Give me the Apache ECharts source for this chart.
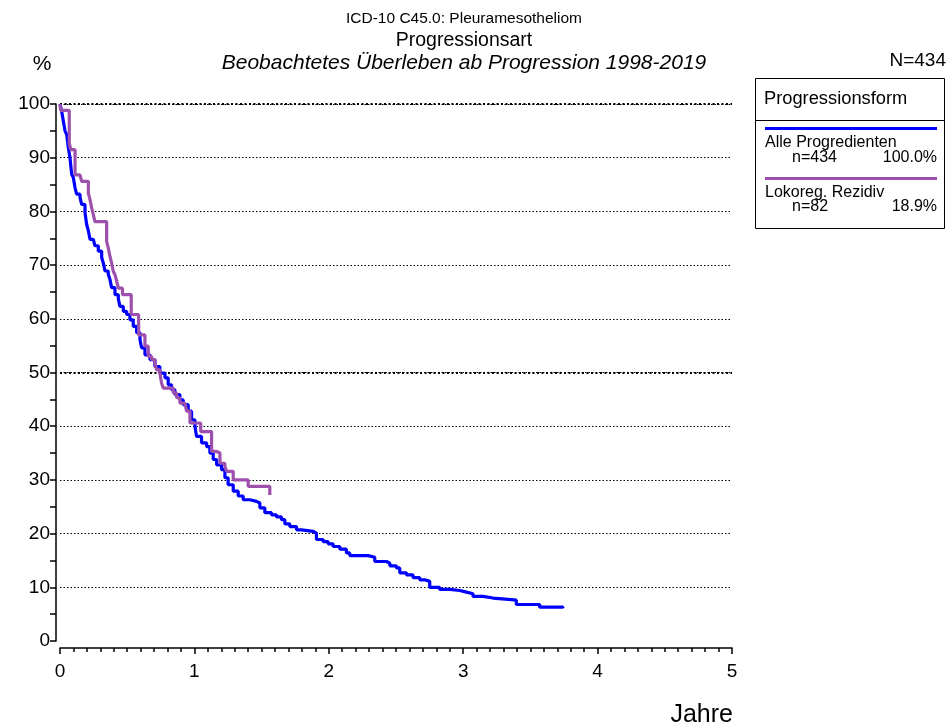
<!DOCTYPE html>
<html>
<head>
<meta charset="utf-8">
<script src="https://cdn.jsdelivr.net/npm/echarts@6/dist/echarts.min.js"></script>
<style>
html,body{margin:0;padding:0;background:#fff;}
#main{width:948px;height:728px;}
</style>
</head>
<body>
<div id="main"></div>
<script>
// Kaplan-Meier step points: time (years) and survival (%)
const alleYears = [0,0.012,0.025,0.037,0.05,0.062,0.074,0.087,0.099,0.112,0.124,0.149,0.161,0.186,0.198,0.211,0.223,0.248,0.26,0.285,0.31,0.322,0.335,0.359,0.372,0.384,0.409,0.434,0.446,0.471,0.496,0.52,0.545,0.57,0.595,0.607,0.632,0.669,0.706,0.743,0.781,0.805,0.83,0.855,0.892,0.917,0.954,0.979,1.004,1.016,1.053,1.091,1.115,1.14,1.165,1.202,1.227,1.251,1.289,1.326,1.363,1.413,1.462,1.487,1.524,1.574,1.611,1.648,1.673,1.71,1.76,1.797,1.884,1.908,1.958,1.995,2.032,2.082,2.131,2.156,2.293,2.342,2.429,2.454,2.503,2.528,2.578,2.627,2.677,2.714,2.751,2.825,2.9,2.974,3.024,3.073,3.147,3.222,3.358,3.395,3.569,3.742];
const allePct = [100,98.7,96.8,95.0,94.3,91.9,90.0,86.9,86.3,84.4,83.2,82.6,81.3,79.8,77.6,76.4,74.8,74.5,73.6,72.6,71.4,70.4,68.9,68.3,67.3,65.8,64.5,63.7,62.3,61.4,60.8,59.8,58.6,57.4,56.1,54.6,53.3,52.4,51.1,49.9,49.0,47.7,46.8,45.9,44.9,44.0,42.8,41.2,40.0,38.1,36.9,36.2,35.0,33.8,32.8,31.9,30.4,29.1,27.9,27.0,26.3,26.0,25.7,24.8,23.9,23.5,23.1,22.6,21.8,21.3,20.7,20.4,20.1,18.9,18.5,18.1,17.6,17.1,16.4,15.9,15.6,14.8,14.5,14.0,13.6,12.7,12.3,11.8,11.4,11.1,10.0,9.6,9.4,9.1,8.8,8.3,8.0,7.7,7.6,6.8,6.3,6.1];

const lokoYears = [0,0.005,0.069,0.08,0.112,0.149,0.161,0.211,0.223,0.236,0.248,0.26,0.347,0.359,0.372,0.384,0.397,0.409,0.422,0.434,0.465,0.53,0.585,0.632,0.657,0.682,0.706,0.719,0.743,0.756,0.768,0.843,0.868,0.892,0.929,0.942,0.967,1.047,1.128,1.165,1.19,1.227,1.239,1.289,1.4,1.561];
const lokoPct = [100,98.8,92.7,91.5,86.8,86.5,85.6,83.4,82.2,80.6,79.4,78.1,74.4,73.2,71.6,70.4,68.8,68.2,67.0,65.7,64.5,60.8,57.0,54.9,53.0,52.4,51.8,50.5,49.9,48.0,47.1,46.2,45.3,44.3,44.0,42.8,40.6,39.0,35.3,35.0,33.1,32.5,31.6,30.0,28.8,27.2];

const xTicks = [0,1,2,3,4,5];
const yTicks = [0,10,20,30,40,50,60,70,80,90,100];

const legendNames = ['Alle Progredienten','Lokoreg. Rezidiv'];
const legendN = ['n=434','n=82'];
const legendPct = ['100.0%','18.9%'];
const colors = ['#0000ff','#9e50ad'];

const FONT = '"Liberation Sans", Arial, sans-serif';

const chart = echarts.init(document.getElementById('main'), null, {renderer:'canvas'});

const txt = (x,y,text,size,align,extra) => ({
  type:'text', x:x, y:y, silent:true,
  style:Object.assign({text:text, font: size+'px '+FONT, fill:'#000', textAlign:align||'left', textVerticalAlign:'middle'}, extra||{})
});

const option = {
  backgroundColor:'#fff',
  animation:false,
  grid:{left:60, top:104, width:672, height:537, containLabel:false},
  xAxis:{
    type:'value', min:0, max:5, interval:1,
    offset:7,
    axisLine:{show:true, onZero:false, lineStyle:{color:'#000', width:1.5}},
    axisTick:{show:true, length:6, lineStyle:{color:'#000', width:1.5}},
    minorTick:{show:true, splitNumber:10, length:4, lineStyle:{color:'#000', width:1.5}},
    axisLabel:{fontSize:19, color:'#000', fontFamily:FONT, margin:14, formatter:(v)=> xTicks.includes(v)? String(v):''},
    splitLine:{show:false}
  },
  yAxis:{
    type:'value', min:0, max:100, interval:10,
    offset:4,
    axisLine:{show:true, onZero:false, lineStyle:{color:'#000', width:1.5}},
    axisTick:{show:true, length:6, lineStyle:{color:'#000', width:1.5}},
    minorTick:{show:true, splitNumber:2, length:6, lineStyle:{color:'#000', width:1.5}},
    axisLabel:{fontSize:19, color:'#000', fontFamily:FONT, margin:6, formatter:(v)=> yTicks.includes(v)? String(v):''},
    splitLine:{show:true, showMinLine:false, lineStyle:{color:'#000', type:[1.5,2], width:1}}
  },
  series:[
    {
      type:'line', step:'end', showSymbol:false, symbol:'none',
      data: alleYears.map((x,i)=>[x, allePct[i]]),
      lineStyle:{color:colors[0], width:3.2}, itemStyle:{color:colors[0]},
      z:3,
      markLine:{
        silent:true, symbol:'none', label:{show:false},
        lineStyle:{color:'#000', type:[2,2.5], width:2.2},
        data:[{yAxis:50},{yAxis:100}], z:1
      }
    },
    {
      type:'line', step:'end', showSymbol:false, symbol:'none',
      data: lokoYears.map((x,i)=>[x, lokoPct[i]]),
      lineStyle:{color:colors[1], width:3.2}, itemStyle:{color:colors[1]},
      z:4
    }
  ],
  graphic:[
    txt(464,19,'ICD-10 C45.0: Pleuramesotheliom',15.5,'center'),
    txt(464,41,'Progressionsart',19.5,'center'),
    txt(464,63,'Beobachtetes Überleben ab Progression 1998-2019',21,'center',{font:'italic 21px '+FONT}),
    txt(42,64,'%',21,'center'),
    txt(946,61,'N=434',19,'right'),
    txt(733,715,'Jahre',25,'right'),
    {type:'rect', shape:{x:755.5,y:78.5,width:189,height:150}, style:{fill:'none', stroke:'#000', lineWidth:1}, silent:true},
    {type:'line', shape:{x1:755.5,y1:120.5,x2:944.5,y2:120.5}, style:{stroke:'#000', lineWidth:1}, silent:true},
    txt(764,99,'Progressionsform',18.3,'left'),
    {type:'line', shape:{x1:765,y1:128.5,x2:937,y2:128.5}, style:{stroke:colors[0], lineWidth:3}, silent:true},
    txt(765,143,legendNames[0],16,'left'),
    txt(792,158,legendN[0],16,'left'),
    txt(937,158,legendPct[0],16,'right'),
    {type:'line', shape:{x1:765,y1:178.5,x2:937,y2:178.5}, style:{stroke:colors[1], lineWidth:3}, silent:true},
    txt(765,193,legendNames[1],16,'left'),
    txt(792,207,legendN[1],16,'left'),
    txt(937,207,legendPct[1],16,'right')
  ]
};
chart.setOption(option);
</script>
</body>
</html>
